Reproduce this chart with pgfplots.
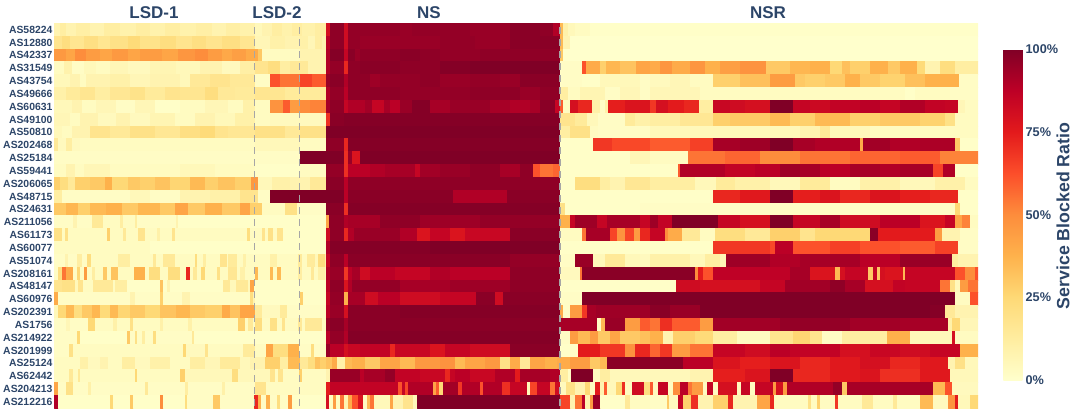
\documentclass[border=0pt]{standalone}
\usepackage{pgfplots}
\pgfplotsset{compat=1.18}
\usepackage{fontspec}
\setmainfont{Liberation Sans}
\definecolor{ink}{HTML}{2C4568}
\pgfplotsset{colormap={ylorrd}{
 rgb255=(255,255,204)
 rgb255=(255,237,160)
 rgb255=(254,217,118)
 rgb255=(254,178,76)
 rgb255=(253,141,60)
 rgb255=(252,78,42)
 rgb255=(227,26,28)
 rgb255=(189,0,38)
 rgb255=(128,0,38)
}}
% one row of the heat map: list of (right edge of the run / blocked ratio in %)
\newcommand\hrow[2]{%
 \gdef\rowbuf{}\gdef\segprev{54}%
 \pgfmathtruncatemacro\yb{#1+1}%
 \foreach \e/\v in {#2}{%
  \xdef\rowbuf{\rowbuf (\segprev,#1)[\v] (\e,#1)[\v] (\e,\yb)[\v] (\segprev,\yb)[\v] }%
  \xdef\segprev{\e}}%
 \edef\tmp{\noexpand\addplot[patch,patch type=rectangle,shader=flat,point meta=explicit] coordinates {\rowbuf};}\tmp}
\begin{document}
\begin{tikzpicture}[x=0.75pt,y=0.75pt]
\path[use as bounding box] (0,0) rectangle (1080,414);
\begin{axis}[
 at={(54,-4.5)},anchor=south west,scale only axis,width=693pt,height=288.75pt,
 xmin=54,xmax=978,ymin=0,ymax=30,y dir=reverse,
 axis line style={draw=none},major tick length=0pt,xtick=\empty,
 ytick={0.5,1.5,2.5,3.5,4.5,5.5,6.5,7.5,8.5,9.5,10.5,11.5,12.5,13.5,14.5,15.5,16.5,17.5,18.5,19.5,20.5,21.5,22.5,23.5,24.5,25.5,26.5,27.5,28.5,29.5},
 yticklabels={AS58224,AS12880,AS42337,AS31549,AS43754,AS49666,AS60631,AS49100,AS50810,AS202468,AS25184,AS59441,AS206065,AS48715,AS24631,AS211056,AS61173,AS60077,AS51074,AS208161,AS48147,AS60976,AS202391,AS1756,AS214922,AS201999,AS25124,AS62442,AS204213,AS212216},
 yticklabel style={font=\fontsize{7.8pt}{9pt}\selectfont\bfseries,text=ink,anchor=east,inner sep=1pt},
 colormap name=ylorrd,point meta min=0,point meta max=100,
 colorbar,
 colorbar style={at={(parent axis.south east)},anchor=south west,xshift=10.5pt,yshift=21pt,
  width=15pt,height=248.25pt,axis line style={draw=none},major tick length=0pt,
  ytick={0,25,50,75,100},yticklabels={0\%,25\%,50\%,75\%,100\%},
  yticklabel style={font=\fontsize{9.5pt}{11pt}\selectfont\bfseries,text=ink,anchor=west,inner sep=1.5pt}},
]
\hrow{0}{60/8,66/12,76/8,90/11,104/8,120/12,136/9,150/12,165/9,180/12,196/9,212/11,226/8,240/11,255/9,262/5,272/8,282/12,292/9,302/12,315/9,326/12,330/80,344/97,348/82,400/96,412/95,470/96,510/95,540/98,553/97,560/90,563/35,568/10,575/5,590/3,978/1}
\hrow{1}{62/18,70/22,84/17,98/21,110/17,128/20,140/24,160/19,176/22,192/18,206/21,222/18,240/21,255/17,270/6,285/10,300/8,308/10,315/6,322/12,326/8,330/88,344/97,348/82,360/96,400/95,440/95,475/96,510/95,560/98,563/35,570/8,978/0}
\hrow{2}{66/46,75/42,86/50,100/45,112/42,128/46,140/42,162/45,178/42,195/47,208/50,222/45,232/41,246/44,258/40,262/30,300/3,326/8,330/90,344/99,348/85,355/98,360/95,400/97,420/98,440/97,480/96,510/97,560/97,563/30,978/0}
\hrow{3}{64/3,72/9,84/2,96/5,110/3,128/6,150/4,176/7,200/5,222/8,240/4,255/11,268/18,280/22,290/12,308/15,326/8,330/90,344/96,348/72,360/97,400/98,440/97,470/99,560/100,582/2,586/62,600/40,606/28,620/36,636/32,650/42,660/40,672/47,690/40,705/47,720/38,740/44,766/48,790/30,810/36,830/38,842/25,850/33,870/28,888/38,900/30,917/38,925/24,940/8,955/22,978/12}
\hrow{4}{70/5,80/8,86/3,110/8,130/10,150/6,180/8,190/5,210/15,230/18,255/15,270/2,280/62,300/55,312/65,326/60,330/95,344/98,348/90,370/97,380/94,400/96,420/96,440/97,470/95,500/96,520/95,560/98,582/2,600/1,640/5,650/2,670/4,690/6,713/3,740/28,770/33,795/45,805/30,825/28,845/30,860/38,880/30,905/27,925/33,959/38,978/2}
\hrow{5}{66/10,80/14,95/17,110/12,130/16,145/19,165/14,180/18,205/17,218/22,235/15,255/14,285/17,326/14,330/90,344/96,348/88,400/97,470/96,520/97,540/95,560/97,568/12,580/3,605/7,620/2,640/6,650/2,700/6,905/3,915/1,950/3,978/2}
\hrow{6}{72/5,82/8,96/3,116/6,135/2,155/6,180/1,205/3,228/6,243/3,255/10,270/3,283/48,290/60,300/45,310/50,326/52,330/92,344/97,348/85,365/90,372/93,384/85,390/92,400/88,412/95,430/99,450/92,490/95,510/92,530/90,540/92,555/98,560/85,563/60,570/3,578/80,592/72,600/10,605/2,608/10,625/74,650/78,656/68,668/80,684/75,699/72,713/12,730/84,745/82,770/80,793/100,810/85,830/83,860/86,880/88,900/85,925/90,945/86,958/85,965/6,978/3}
\hrow{7}{70/6,80/3,98/8,116/4,130/8,150/4,175/7,195/3,215/8,235/5,255/10,270/3,326/4,330/70,344/98,560/99,575/18,587/14,598/5,625/2,635/14,650/10,680/12,713/16,730/28,770/30,790/35,815/28,850/35,880/28,920/30,945/27,955/20,978/3}
\hrow{8}{62/5,72/3,90/8,110/18,130/15,155/20,180/16,200/21,215/24,228/18,255/16,285/20,300/15,326/20,330/100,560/100,570/12,590/20,598/3,650/2,800/5,820/8,830/15,870/5,978/3}
\hrow{9}{58/15,66/4,72/12,80/4,255/3,300/5,326/3,344/97,348/72,400/99,560/99,593/1,612/68,650/64,690/60,713/66,740/92,770/94,793/100,815/92,860/90,863/40,890/93,920/90,955/91,960/30,978/1}
\hrow{10}{300/2,326/100,344/100,348/70,352/95,360/78,560/100,630/1,650/6,688/3,725/55,760/58,800/50,850/55,900/58,940/60,978/52}
\hrow{11}{66/3,75/8,84/3,110/6,180/3,215/5,255/3,300/1,326/3,344/96,348/70,370/88,385/90,415/92,420/85,440/93,470/95,500/97,520/92,533/97,540/62,553/55,560/58,678/1,680/60,725/90,755/86,780/88,800/94,820/92,850/88,880/92,900/90,933/92,943/65,955/90,978/1}
\hrow{12}{60/28,68/22,75/15,90/28,105/30,112/38,128/25,140/30,155/28,170/32,190/26,205/35,218/28,235/32,251/28,258/46,272/5,290/10,310/8,326/15,344/98,348/88,560/97,575/1,600/22,610/12,625/8,650/16,695/12,716/5,735/14,770/10,800/5,830/14,860/3,900/10,935/5,965/10,978/3}
\hrow{13}{62/12,130/2,150/5,180/2,210/8,240/10,258/18,270/2,344/100,348/88,453/98,507/90,560/98,713/1,740/72,770/76,793/100,820/74,840/78,870/72,900/78,930/74,958/72,978/1}
\hrow{14}{66/30,78/36,90/28,106/35,122/38,138/30,160/36,175/30,188/42,205/30,222/38,240/30,250/42,262/28,285/3,297/20,326/2,344/98,348/70,560/99,565/20,640/1,955/2,960/25,978/1}
\hrow{15}{73/2,77/8,92/2,103/15,120/3,123/12,135/3,137/12,176/2,178/8,326/1,329/42,344/97,348/90,380/92,420/97,480/94,560/96,570/38,575/85,597/94,607/85,640/92,650/85,658/94,672/86,718/100,740/85,770/80,793/100,820/85,840/92,880/82,920/88,945/78,955/85,962/42,970/52,978/3}
\hrow{16}{62/20,65/3,68/20,107/3,110/28,123/3,126/15,138/3,145/18,157/3,160/10,172/3,175/18,247/3,250/22,262/3,265/18,268/3,273/20,277/3,283/18,326/1,330/82,344/97,348/72,354/90,400/95,417/90,430/78,450/85,465/78,510/84,560/98,582/3,586/55,610/92,617/65,625/48,634/65,640/45,650/72,665/85,668/50,682/40,700/15,715/3,745/22,770/15,800/28,815/18,870/25,878/98,935/75,942/45,960/8,978/2}
\hrow{17}{150/3,326/1,330/90,430/99,560/100,713/1,770/68,775/64,793/88,830/62,860/66,900/62,935/60,958/66,978/2}
\hrow{18}{65/2,68/8,77/2,82/12,87/2,91/22,118/3,130/12,153/3,156/15,163/3,175/15,195/3,197/22,203/3,206/12,220/3,227/18,228/3,237/14,243/3,246/10,270/3,277/10,298/3,302/14,307/3,315/14,318/5,325/22,326/10,330/85,344/97,348/88,510/98,560/96,575/2,593/95,605/5,625/15,640/5,650/4,690/10,705/5,720/12,726/6,770/94,800/90,860/92,900/88,952/95,958/12,978/8}
\hrow{19}{58/2,62/22,66/55,73/40,77/2,80/25,84/2,87/45,92/2,95/12,103/3,107/30,111/3,118/32,134/3,145/38,149/3,160/22,168/3,180/22,186/3,190/72,193/3,197/15,201/3,205/25,217/3,220/20,228/3,237/16,240/3,245/10,255/3,258/35,270/3,273/35,277/3,281/35,298/3,302/12,311/3,314/15,318/3,325/10,326/5,330/90,344/95,348/68,352/88,360/92,370/82,395/88,430/85,450/90,510/88,560/97,580/4,582/55,695/98,698/50,703/75,713/62,790/87,810/92,835/78,840/35,845/80,868/85,873/30,877/85,880/30,885/80,903/78,905/35,955/85,965/62,975/50,978/62}
\hrow{20}{62/18,75/20,78/5,83/18,93/3,113/15,115/3,127/12,160/1,163/32,167/1,170/8,223/1,230/15,236/5,248/15,250/5,254/42,326/1,330/88,344/97,348/78,352/90,400/96,450/92,510/94,560/97,676/1,700/82,760/80,785/85,830/93,845/97,865/92,893/80,905/86,940/85,950/55,955/20,960/5,968/45,978/55}
\hrow{21}{58/40,130/2,135/8,160/2,163/28,182/2,190/8,250/2,253/22,255/8,300/1,303/28,326/1,330/85,344/96,348/38,365/92,378/82,400/88,440/82,476/85,495/98,503/82,560/98,582/2,955/100,970/3,978/62}
\hrow{22}{58/5,66/25,74/35,82/22,92/30,100/36,110/24,118/35,130/26,145/30,160/25,176/32,190/36,205/30,222/28,230/40,240/32,255/42,262/14,280/4,287/14,326/2,330/88,344/95,348/80,400/98,560/99,563/40,570/2,582/45,587/68,596/92,650/94,670/98,700/95,930/100,945/99,955/15,978/8}
\hrow{23}{66/2,70/6,88/2,95/25,113/3,117/10,130/3,133/20,160/3,163/10,188/3,192/10,238/3,245/28,248/3,253/15,255/3,262/22,270/3,277/20,282/3,285/18,298/3,302/15,305/3,322/15,326/3,330/95,344/98,348/92,560/98,597/92,601/2,605/35,625/95,640/45,650/60,660/55,672/70,700/60,713/45,780/93,850/96,900/93,948/92,952/10,960/25,978/6}
\hrow{24}{77/2,80/25,127/1,130/30,135/2,137/20,142/2,145/12,153/2,156/22,192/2,194/15,326/1,330/88,344/96,348/90,560/99,570/2,578/45,590/35,598/45,610/30,620/42,640/30,650/33,663/38,673/8,695/28,713/24,737/12,770/3,793/18,810/26,822/18,842/2,887/12,910/38,952/5,955/80,978/3}
\hrow{25}{69/2,73/20,183/3,186/25,205/4,208/18,243/3,255/14,266/3,273/42,288/22,299/38,311/2,314/22,326/2,330/95,344/88,348/80,360/84,390/86,395/72,430/84,445/78,470/85,510/82,560/98,578/1,600/75,625/68,635/48,650/72,660/58,672/68,690/45,713/55,745/85,770/82,790/88,840/86,870/80,900/84,930/82,960/85,978/38}
\hrow{26}{80/3,88/10,100/4,108/8,122/3,135/12,150/4,170/10,190/3,205/12,220/6,240/14,250/5,265/8,280/28,288/12,300/35,308/15,315/22,320/32,326/28,332/32,337/40,345/10,352/35,365/38,380/30,400/42,415/35,440/46,455/48,465/35,485/42,500/46,510/20,520/40,530/15,545/42,557/38,570/40,590/45,600/30,607/35,683/98,713/88,740/78,770/74,800/78,830/72,860/76,890/80,920/72,948/76,955/8,965/20,978/5}
\hrow{27}{69/3,73/15,78/3,80/15,135/3,137/25,180/3,185/28,232/5,238/22,270/5,275/18,278/3,283/18,299/3,302/28,326/3,330/8,360/95,364/88,385/92,395/96,420/86,445/84,450/72,455/85,470/88,495/84,515/90,520/75,550/92,560/90,568/12,571/2,593/100,600/3,610/12,650/5,690/5,713/8,745/74,770/78,793/100,830/72,860/76,880/78,920/70,950/76,978/5}
\hrow{28}{58/42,66/2,73/20,88/2,91/10,145/2,148/15,185/2,188/12,222/2,225/10,255/2,266/18,326/3,330/75,398/86,402/62,405/85,408/65,433/90,436/42,439/60,443/25,458/93,462/68,480/90,483/62,502/90,510/70,527/85,530/5,537/65,550/85,555/55,560/82,566/4,575/20,585/8,590/25,595/3,600/75,604/8,607/60,616/5,622/25,625/70,632/3,644/82,650/22,653/60,658/4,668/85,673/3,680/50,688/88,692/55,703/45,707/3,713/85,718/3,737/80,741/4,750/85,755/3,773/85,776/45,783/80,787/45,833/90,842/96,847/30,933/92,945/35,952/62,978/4}
\hrow{29}{58/90,110/1,113/25,130/1,133/30,160/1,163/50,185/1,187/22,213/2,220/30,254/2,258/72,261/38,266/2,270/38,277/2,280/22,288/2,292/45,326/1,329/80,333/3,336/45,340/3,344/55,348/8,352/40,358/62,363/78,367/3,370/35,374/55,390/5,393/42,403/8,413/18,417/5,560/100,570/65,575/8,582/55,585/88,590/8,593/45,600/95,625/1,630/15,650/3,667/2,669/30,678/4,683/85,691/28,698/70,713/8,728/28,733/72,757/8,770/42,774/72,808/3,811/20,817/3,820/28,835/3,838/68,862/3,873/15,893/3,897/15,920/3,933/35,948/4,955/48,958/75,970/5,978/25}
\addplot[no marks,draw=gray!70,line width=0.8pt,dash pattern=on 5pt off 4pt] coordinates {(254.7,0.3)(254.7,30)};
\addplot[no marks,draw=gray!70,line width=0.8pt,dash pattern=on 5pt off 4pt] coordinates {(299.7,0.3)(299.7,30)};
\addplot[no marks,draw=gray!70,line width=0.8pt,dash pattern=on 5pt off 4pt] coordinates {(560,0.3)(560,30)};
\end{axis}
\foreach \xx/\tt in {154/LSD-1,277/LSD-2,429/NS,768/NSR}
 \node[text=ink,font=\fontsize{12.75pt}{14pt}\selectfont\bfseries] at (\xx,401) {\tt};
\node[rotate=90,text=ink,font=\fontsize{13.3pt}{15pt}\selectfont\bfseries] at (1063,198) {Service Blocked Ratio};
\end{tikzpicture}
\end{document}
